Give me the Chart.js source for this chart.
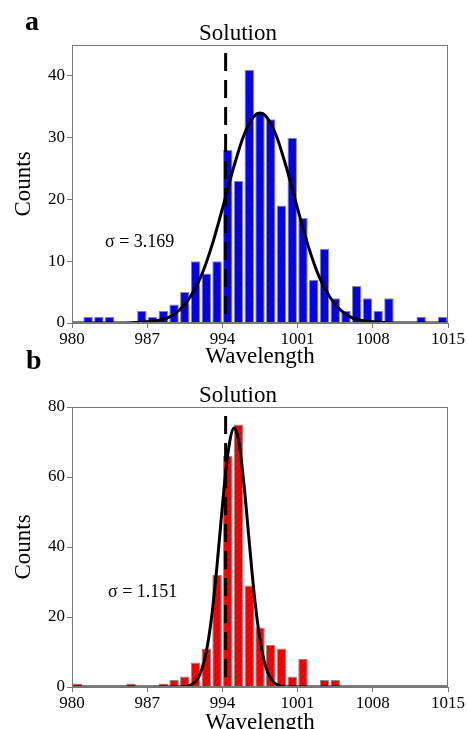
<!DOCTYPE html>
<html>
<head>
<meta charset="utf-8">
<script src="https://cdn.jsdelivr.net/npm/chart.js@4"></script>
<style>
  html, body { margin: 0; padding: 0; background: #fff; overflow: hidden; }
  body { width: 467px; height: 729px; position: relative; font-family: 'Liberation Serif', serif; }
  canvas { position: absolute; left: 0; }
  #chart-a { top: 0; }
  #chart-b { top: 368px; }
  .lbl { position: absolute; line-height: 1; color: #000; white-space: nowrap; }
  .panel { font-size: 28px; font-weight: bold; }
  .sigma { font-size: 18px; }
</style>
</head>
<body>
<canvas id="chart-a" width="467" height="368"></canvas>
<canvas id="chart-b" width="467" height="366"></canvas>
<div class="lbl panel" style="left:25px; top:7px;">a</div>
<div class="lbl panel" style="left:26px; top:346px;">b</div>
<div class="lbl sigma" id="sigma-a" style="left:105px; top:232px;"></div>
<div class="lbl sigma" id="sigma-b" style="left:108px; top:582px;"></div>
<script>
// bin centres (bins are 1 unit wide)
const binCenters = [980.5, 981.5, 982.5, 983.5, 984.5, 985.5, 986.5, 987.5, 988.5, 989.5,
  990.5, 991.5, 992.5, 993.5, 994.5, 995.5, 996.5, 997.5, 998.5, 999.5,
  1000.5, 1001.5, 1002.5, 1003.5, 1004.5, 1005.5, 1006.5, 1007.5, 1008.5, 1009.5,
  1010.5, 1011.5, 1012.5, 1013.5, 1014.5];

const countsA = [0, 1, 1, 1, 0, 0, 2, 1, 2, 3, 5, 10, 8, 10, 28, 23, 41, 34, 33, 19,
  30, 17, 7, 12, 4, 2, 6, 4, 2, 4, 0, 0, 1, 0, 1];
const countsB = [1, 0, 0, 0, 0, 1, 0, 0, 1, 2, 3, 7, 11, 32, 66, 75, 29, 17, 12, 11,
  3, 8, 0, 2, 2, 0, 0, 0, 0, 0, 0, 0, 0, 0, 0];

// fitted curves
const fitXA = [980, 984, 986, 988, 989, 990, 991, 992, 993, 994, 995, 996, 997, 997.5, 998,
  999, 1000, 1001, 1002, 1003, 1004, 1005, 1006, 1007, 1009, 1011, 1015];
const fitYA = [0, 0, 0.1, 0.4, 0.9, 2.1, 4.2, 7.5, 12.4, 18.5, 24.9, 30.4, 33.6, 34, 33.6,
  30.4, 24.9, 18.5, 12.4, 7.5, 4.2, 2.1, 0.9, 0.4, 0.1, 0, 0];
const fitXB = [980, 990, 991, 991.5, 992, 992.5, 993, 993.5, 994, 994.5, 995.1, 995.5, 996,
  996.5, 997, 997.5, 998, 998.5, 999, 1000, 1015];
const fitYB = [0, 0, 0.5, 1.6, 4.3, 10, 20.1, 34.7, 51.7, 66.5, 74, 70.6, 58.2,
  41.4, 25.4, 13.5, 6.1, 2.4, 0.8, 0, 0];

const dashX = 994.3;
const sigmaA = '3.169';
const sigmaB = '1.151';

const xTicks = [980, 987, 994, 1001, 1008, 1015];
const yTicksA = [0, 10, 20, 30, 40];
const yTicksB = [0, 20, 40, 60, 80];

const serif = 'Liberation Serif';

function hatch(fill, line) {
  const c = document.createElement('canvas');
  c.width = 6; c.height = 6;
  const g = c.getContext('2d');
  g.fillStyle = fill;
  g.fillRect(0, 0, 6, 6);
  g.strokeStyle = line;
  g.lineWidth = 0.9;
  g.beginPath();
  g.moveTo(0, 6); g.lineTo(6, 0);
  g.moveTo(-1, 1); g.lineTo(1, -1);
  g.moveTo(5, 7); g.lineTo(7, 5);
  g.stroke();
  return g.createPattern(c, 'repeat');
}

const frame = {
  id: 'frame',
  afterDraw(chart) {
    const { ctx, chartArea: a } = chart;
    ctx.save();
    ctx.strokeStyle = '#777';
    ctx.lineWidth = 1;
    ctx.strokeRect(Math.round(a.left) + 0.5, Math.round(a.top) + 0.5,
      Math.round(a.right - a.left) - 1, Math.round(a.bottom - a.top) - 1);
    ctx.restore();
  }
};

function drawPanel(id, p) {
  const bars = binCenters.map((x, i) => ({ x: x, y: p.counts[i] }));
  const fit = p.fitX.map((x, i) => ({ x: x, y: p.fitY[i] }));
  const dash = [{ x: dashX, y: p.yMax }, { x: dashX, y: 0 }];
  const ctx = document.getElementById(id).getContext('2d');

  new Chart(ctx, {
    type: 'bar',
    data: {
      datasets: [
        { type: 'line', data: fit, borderColor: '#000', borderWidth: 3, pointRadius: 0,
          cubicInterpolationMode: 'monotone', order: 1 },
        { type: 'line', data: dash, borderColor: '#000', borderWidth: 3, pointRadius: 0,
          borderDash: [18, 9], borderDashOffset: p.dashOffset, tension: 0, order: 2 },
        { type: 'bar', data: bars, backgroundColor: hatch(p.fill, p.hatch),
          borderColor: '#8c8c8c',
          borderWidth: c => (c.raw && c.raw.y > 0 ? 1 : 0),
          barPercentage: 0.88, categoryPercentage: 1, order: 3 }
      ]
    },
    options: {
      responsive: false,
      animation: false,
      devicePixelRatio: 1,
      // left padding shifts the centred title to where the original has it
      layout: { padding: { top: p.padTop, right: 19, bottom: 0, left: 28 } },
      plugins: {
        legend: { display: false },
        tooltip: { enabled: false },
        title: { display: true, text: 'Solution', color: '#000', padding: 0,
          font: { family: serif, size: 23, weight: 'normal', lineHeight: 1 } }
      },
      scales: {
        x: {
          type: 'linear', min: 980, max: 1015, offset: false,
          afterBuildTicks: s => { s.ticks = xTicks.map(v => ({ value: v })); },
          afterFit: s => { s.height = p.xAxisHeight; },
          ticks: { autoSkip: false, maxRotation: 0, padding: 1, color: '#000',
            font: { family: serif, size: 17 }, callback: v => String(v) },
          grid: { display: true, drawOnChartArea: false, drawTicks: true, tickLength: 5,
            color: '#777', offset: false },
          border: { color: '#777' },
          title: { display: true, text: 'Wavelength', color: '#000', padding: 0,
            font: { family: serif, size: 23, lineHeight: 1 } }
        },
        y: {
          min: 0, max: p.yMax,
          afterBuildTicks: s => { s.ticks = p.yTicks.map(v => ({ value: v })); },
          afterFit: s => { s.width = 44; },
          ticks: { padding: 2, color: '#000', font: { family: serif, size: 17 },
            callback: v => String(v) },
          grid: { display: true, drawOnChartArea: false, drawTicks: true, tickLength: 5,
            color: '#777' },
          border: { color: '#777' },
          title: { display: true, text: 'Counts', color: '#000', padding: { top: -16, bottom: 0 },
            font: { family: serif, size: 23, lineHeight: 1 } }
        }
      }
    },
    plugins: [frame]
  });
}

document.addEventListener('DOMContentLoaded', () => {
  document.getElementById('sigma-a').textContent = 'σ = ' + sigmaA;
  document.getElementById('sigma-b').textContent = 'σ = ' + sigmaB;

  drawPanel('chart-a', { counts: countsA, fitX: fitXA, fitY: fitYA, yMax: 45, yTicks: yTicksA,
    fill: '#0000f5', hatch: '#16168a', padTop: 22, xAxisHeight: 45, dashOffset: 19 });
  drawPanel('chart-b', { counts: countsB, fitX: fitXB, fitY: fitYB, yMax: 80, yTicks: yTicksB,
    fill: '#ff0000', hatch: '#a01010', padTop: 16, xAxisHeight: 47, dashOffset: 18 });
});
</script>
</body>
</html>
